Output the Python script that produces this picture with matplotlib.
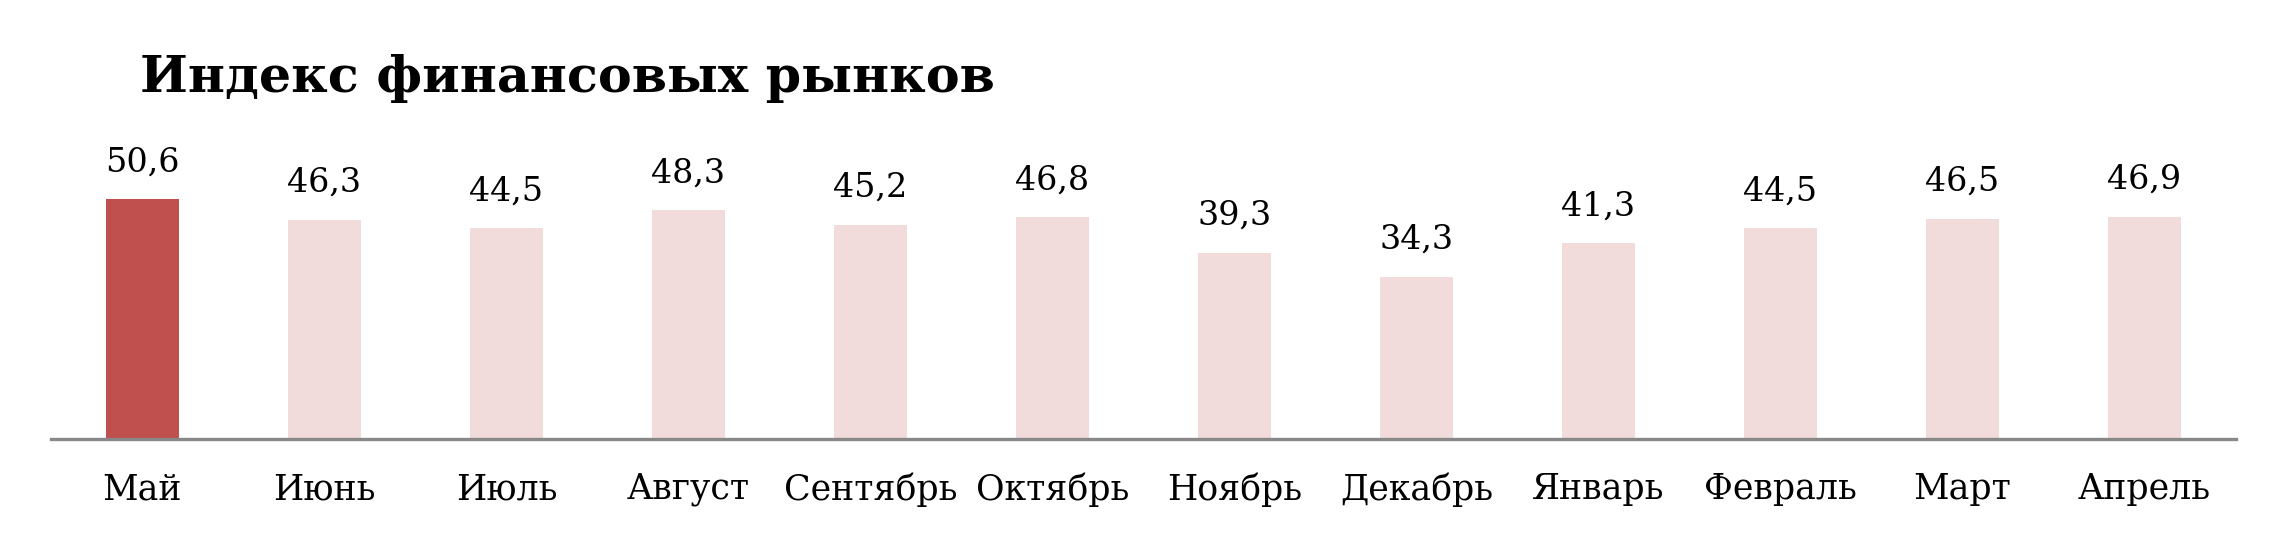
import matplotlib
matplotlib.use("Agg")
import matplotlib.pyplot as plt

months = ["Май", "Июнь", "Июль", "Август", "Сентябрь", "Октябрь",
          "Ноябрь", "Декабрь", "Январь", "Февраль", "Март", "Апрель"]
values = [50.6, 46.3, 44.5, 48.3, 45.2, 46.8, 39.3, 34.3, 41.3, 44.5, 46.5, 46.9]

highlight = "#C0504D"
pale = "#F2DCDB"
colors = [highlight] + [pale] * (len(values) - 1)

plt.rcParams["font.family"] = ["DejaVu Serif"]

fig = plt.figure(figsize=(22.87, 5.42), dpi=100)
ax = fig.add_axes([0.0225, 0.19, 0.955, 0.52])

x = range(len(months))
bars = ax.bar(x, values, width=0.4, color=colors)
ax.set_xlim(-0.5, len(months) - 0.5)
ax.set_ylim(0, 59.5)

for rect, v in zip(bars, values):
    ax.annotate(f"{v:.1f}".replace(".", ","),
                (rect.get_x() + rect.get_width() / 2, v),
                xytext=(0, 15), textcoords="offset points",
                ha="center", va="bottom", fontsize=24)

ax.set_xticks(list(x))
ax.set_xticklabels(months, fontsize=25)
ax.tick_params(axis="x", length=0, pad=24)
ax.set_yticks([])
for s in ("top", "right", "left"):
    ax.spines[s].set_visible(False)
ax.spines["bottom"].set_color("#888888")
ax.spines["bottom"].set_linewidth(2.4)

fig.text(0.061, 0.855, "Индекс финансовых рынков", fontsize=36.5,
         fontweight="bold", ha="left", va="center")

fig.savefig("out.png", dpi=100)
